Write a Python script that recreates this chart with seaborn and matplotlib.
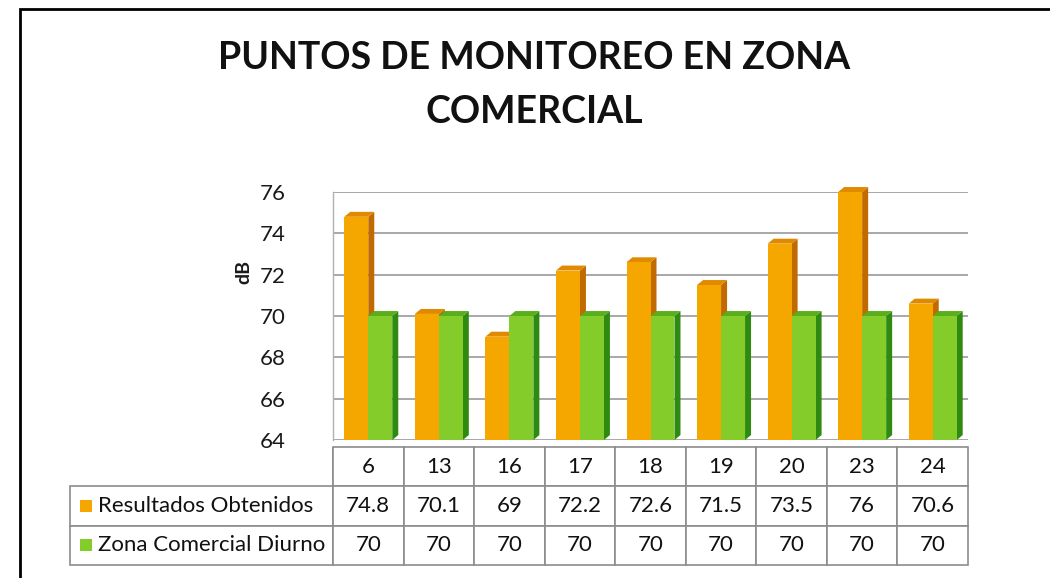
import matplotlib
matplotlib.use("Agg")
import matplotlib.pyplot as plt
import pandas as pd
import seaborn as sns
from matplotlib.patches import Polygon, Rectangle

PUNTOS = ["6", "13", "16", "17", "18", "19", "20", "23", "24"]
RESULTADOS = [74.8, 70.1, 69, 72.2, 72.6, 71.5, 73.5, 76, 70.6]
ZONA_DIURNO = [70, 70, 70, 70, 70, 70, 70, 70, 70]
SERIES = ["Resultados Obtenidos", "Zona Comercial Diurno"]
Y_TICKS = [64, 66, 68, 70, 72, 74, 76]

FRONT = {"Resultados Obtenidos": "#F5A700", "Zona Comercial Diurno": "#84CC2A"}
SIDE = {"Resultados Obtenidos": "#C06A00", "Zona Comercial Diurno": "#2F8A12"}
TOP = {"Resultados Obtenidos": "#E08A00", "Zona Comercial Diurno": "#5AAE1C"}

W, H = 1050, 578
FONT = ["Lato", "DejaVu Sans"]


def fx(px):
    return px / W


def fy(py):
    return 1 - py / H


def fmt(v):
    return f"{v:g}"


def main() -> None:
    sns.set_theme(style="white")
    plt.rcParams["font.family"] = FONT

    df = pd.DataFrame(
        {
            "punto": PUNTOS * 2,
            "serie": [SERIES[0]] * len(PUNTOS) + [SERIES[1]] * len(PUNTOS),
            "valor": RESULTADOS + ZONA_DIURNO,
        }
    )

    fig = plt.figure(figsize=(W / 100, H / 100), dpi=100)
    left, right, top, bottom = 333, 968, 192, 440
    ax = fig.add_axes([fx(left), fy(bottom), fx(right - left), (bottom - top) / H])

    sns.barplot(
        data=df, x="punto", y="valor", hue="serie", palette=FRONT,
        width=0.68, gap=0, legend=False, ax=ax, saturation=1,
        linewidth=0, edgecolor="none",
    )
    ax.set_ylim(64, 76)
    ax.set_xlim(-0.5, len(PUNTOS) - 0.5)

    # pseudo 3D sides and tops
    dx, dy = 0.085, 0.24
    for i, patch in enumerate(list(ax.patches)):
        serie = SERIES[i // len(PUNTOS)]
        x0 = patch.get_x()
        w = patch.get_width()
        h = patch.get_height()
        base = 64
        z = 3 + i // len(PUNTOS) * 2
        patch.set_zorder(z + 1)
        side = Polygon([(x0 + w, base), (x0 + w + dx, base + dy), (x0 + w + dx, h + dy), (x0 + w, h)],
                       closed=True, fc=SIDE[serie], ec="none", zorder=z, clip_on=False)
        cap = Polygon([(x0, h), (x0 + dx, h + dy), (x0 + w + dx, h + dy), (x0 + w, h)],
                      closed=True, fc=TOP[serie], ec="none", zorder=z, clip_on=False)
        ax.add_patch(side)
        ax.add_patch(cap)

    ax.set_yticks(Y_TICKS)
    ax.set_yticklabels([str(t) for t in Y_TICKS], fontsize=16, color="#1A1A1A")
    ax.tick_params(axis="y", length=0, pad=34)
    ax.set_xticks([])
    ax.set_xlabel("")
    ax.set_ylabel("dB", fontsize=14, fontweight="bold", color="#1A1A1A")
    ax.yaxis.set_label_coords((252 - left) / (right - left), (bottom - 272) / (bottom - top))
    ax.grid(axis="y", color="#9A9A9A", linewidth=1.2, zorder=0)
    for s in ["top", "right", "bottom"]:
        ax.spines[s].set_visible(False)
    ax.spines["left"].set_color("#B0B0B0")
    ax.spines["left"].set_linewidth(1.0)

    # data table
    cells = [[""] + PUNTOS,
             ["    " + SERIES[0]] + [fmt(v) for v in RESULTADOS],
             ["    " + SERIES[1]] + [fmt(v) for v in ZONA_DIURNO]]
    col_w = (right - left) / len(PUNTOS)
    tab_left, tab_top, tab_bottom = 70, 447, 565
    label_w = left - tab_left
    widths = [label_w] + [col_w] * len(PUNTOS)
    total_w = sum(widths)
    ax_w = right - left
    ax_h = bottom - top
    tbl = ax.table(
        cellText=cells,
        colWidths=[w_ / total_w for w_ in widths],
        cellLoc="center",
        bbox=[(tab_left - left) / ax_w, (bottom - tab_bottom) / ax_h,
              total_w / ax_w, (tab_bottom - tab_top) / ax_h],
    )
    tbl.auto_set_font_size(False)
    for (r, c), cell in tbl.get_celld().items():
        cell.set_edgecolor("#8C8C8C")
        cell.set_linewidth(1.2)
        cell.get_text().set_fontsize(16)
        cell.get_text().set_color("#111111")
        cell.get_text().set_fontfamily(FONT)
        if c == 0:
            cell.get_text().set_horizontalalignment("left")
            cell._loc = "left"
            cell.PAD = 0.02
        if r == 0 and c == 0:
            cell.visible_edges = "R"

    row_h = (tab_bottom - tab_top) / 3
    for k, serie in enumerate(SERIES):
        cy = tab_top + row_h * (k + 1.5)
        fig.patches.append(Rectangle((fx(80), fy(cy + 6)), fx(12), 12 / H,
                                     transform=fig.transFigure, fc=FRONT[serie], ec="none"))

    fig.text(fx(534), fy(58), "PUNTOS DE MONITOREO EN ZONA", ha="center", va="center",
             fontsize=27, fontweight="bold", color="#111111", family=FONT)
    fig.text(fx(534), fy(112), "COMERCIAL", ha="center", va="center",
             fontsize=27, fontweight="bold", color="#111111", family=FONT)

    fig.patches.append(Rectangle((fx(20), -0.01), 1.0, fy(9) + 0.01, transform=fig.transFigure,
                                 fill=False, ec="black", lw=2))

    fig.savefig("out.png", dpi=100)
    plt.close(fig)


if __name__ == "__main__":
    main()
